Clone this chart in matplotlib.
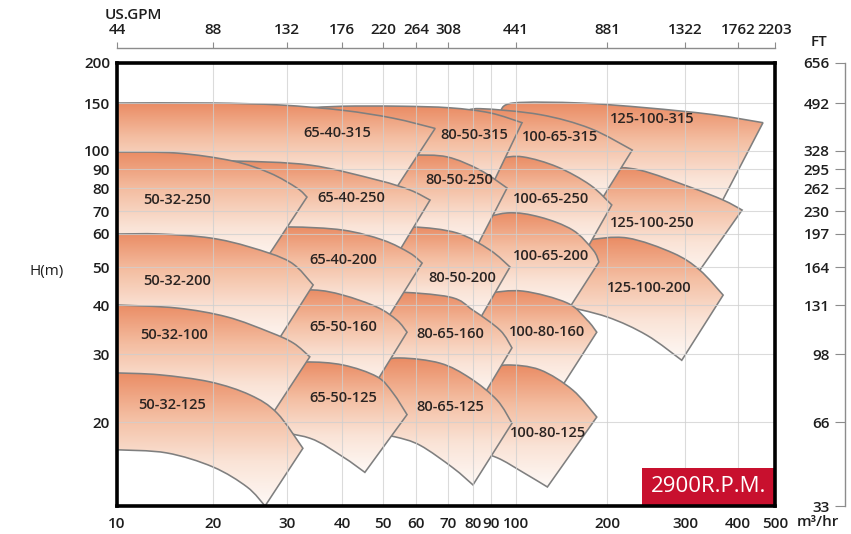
import numpy as np
import matplotlib
matplotlib.use("Agg")
import matplotlib.pyplot as plt
from matplotlib.colors import LinearSegmentedColormap
from matplotlib.patches import PathPatch, Rectangle
from matplotlib.path import Path
from matplotlib.ticker import NullLocator

plt.rcParams['font.family'] = ['Open Sans', 'DejaVu Sans']

# ---- axes ticks -------------------------------------------------------
q_ticks = [10, 20, 30, 40, 50, 60, 70, 80, 90, 100, 200, 300, 400, 500]
gpm_ticks = [10, 20, 30, 40, 50, 60, 70, 100, 200, 300, 400, 500]
gpm_labels = ['44', '88', '132', '176', '220', '264', '308', '441', '881', '1322', '1762', '2203']
h_ticks = [20, 30, 40, 50, 60, 70, 80, 90, 100, 150, 200]
ft_ticks = [10, 20, 30, 40, 50, 60, 70, 80, 90, 100, 150, 200]
ft_labels = ['33', '66', '98', '131', '164', '197', '230', '262', '295', '328', '492', '656']

# the printed chart is not a true log grid: where each gridline sits (fraction of axis)
x_frac = [0, 0.1459, 0.2584, 0.3419, 0.4043, 0.4544, 0.5030, 0.5410, 0.5684, 0.6064,
          0.7447, 0.8632, 0.9438, 1]
y_vals = [10, 20, 30, 40, 50, 60, 70, 80, 90, 100, 150, 200]
y_frac = [0, 0.1896, 0.3431, 0.4537, 0.5395, 0.6140, 0.6659, 0.7178, 0.7607, 0.8014,
          0.9097, 1]

# ---- pump ranges (Q m3/hr, H m): top curve and bottom curve, left -> right ----
top_125_100_315 = [(93.5, 139), (98.8, 150), (163, 150), (246, 144), (349, 136), (465, 127)]
bot_125_100_315 = [(93.5, 76.8), (214, 72.5), (353, 68.2)]
top_125_100_250 = [(163, 86.7), (200, 90.5), (237, 89.4), (308, 80.5), (369, 74.6), (410, 70.4)]
bot_125_100_250 = [(163, 56.5), (237, 54.3), (313, 46.3)]
top_125_100_200 = [(157, 56.5), (172, 58.0), (222, 58.7), (282, 54.0), (325, 49.1), (369, 42.4)]
bot_125_100_200 = [(140, 40.0), (200, 37.3), (246, 33.5), (295, 28.9)]

top_100_65_315 = [(76.7, 139), (83.8, 143), (120, 136), (176, 121), (228, 100.8)]
bot_100_65_315 = [(76.7, 74.6), (111, 74.6), (182.5, 70.4)]
top_100_65_250 = [(78.7, 94.9), (92.7, 96.0), (105.5, 96.6), (137, 91.1), (176, 81.5), (205, 72.5)]
bot_100_65_250 = [(78.7, 61.6), (111, 58.0), (167, 53.4)]
top_100_65_200 = [(78.7, 65.0), (96.3, 69.1), (120, 67.2), (154, 61.6), (180, 54.9), (188, 51.4)]
bot_100_65_200 = [(78.7, 41.2), (103, 41.2), (145, 37.7)]
top_100_80_160 = [(78.7, 42.4), (87.7, 42.9), (105.5, 43.4), (147.5, 40.5), (172, 36.6), (185, 34.1)]
bot_100_80_160 = [(78.7, 28.9), (103, 26.0), (138, 23.9)]
top_100_80_125 = [(78.7, 26.9), (87.7, 27.3), (96.3, 28.1), (120, 27.3), (154, 24.2), (185, 20.6)]
bot_100_80_125 = [(78.7, 15.9), (92.3, 14.9), (105.5, 13.2), (127, 11.7)]

top_80_50_315 = [(33.8, 144), (40.2, 146), (54.9, 146), (70.8, 144), (89.4, 138), (104.7, 127)]
bot_80_50_315 = [(33.8, 72.5), (54.9, 68.2), (86.5, 74.6)]
top_80_50_250 = [(49.2, 97.7), (58.7, 97.7), (69.7, 96.6), (83.8, 89.4), (96.3, 80)]
bot_80_50_250 = [(49.2, 56.5), (67.4, 56.5), (80.5, 54.3)]
top_80_50_200 = [(49.2, 61.6), (59.0, 62.9), (73.5, 60.4), (89.4, 54.9), (97.5, 50)]
bot_80_50_200 = [(49.2, 38.8), (67.4, 38.4), (82.7, 36.2)]
top_80_65_160 = [(44.1, 42.4), (52.8, 43.2), (70.8, 41.9), (80, 38.8), (93.5, 34.5), (98.3, 31.1)]
bot_80_65_160 = [(44.1, 28.9), (64.2, 26.0), (84.9, 23.1)]
top_80_65_125 = [(46.6, 28.6), (54.9, 29.3), (67.4, 28.4), (78.7, 26.0), (92.3, 22.8), (98.3, 19.8)]
bot_80_65_125 = [(46.6, 18.3), (53.4, 17.7), (61.2, 16.5), (71.9, 13.7), (80, 11.9)]

top_65_40_315 = [(10, 150), (19.6, 150), (28.9, 147.5), (40.2, 141), (52.8, 132), (65.8, 121)]
bot_65_40_315 = [(10, 89.4), (24.5, 84.1), (37.6, 79.1), (50.6, 72.5)]
top_65_40_250 = [(15.8, 93.8), (22.3, 94.3), (33.8, 92.1), (48.4, 84.1), (58.0, 79.1), (64.2, 74.6)]
bot_65_40_250 = [(15.8, 58.0), (32.1, 56.5), (53.4, 52.5)]
top_65_40_200 = [(24.5, 62.0), (30.5, 62.9), (40.2, 61.6), (50, 58.0), (58.0, 54.0), (61.8, 51.1)]
bot_65_40_200 = [(24.5, 41.2), (35.6, 40.0), (49.2, 34.5)]
top_65_50_160 = [(27.3, 43.2), (34.4, 43.7), (40.2, 42.4), (48.4, 39.5), (54.0, 36.6), (57.1, 34.1)]
bot_65_50_160 = [(27.3, 27.3), (37.6, 26.0), (46.6, 23.9)]
top_65_50_125 = [(27.3, 27.9), (33.0, 28.6), (40.2, 28.1), (48.4, 26.2), (52.8, 23.8), (57.1, 20.9)]
bot_65_50_125 = [(26.6, 18.7), (33.8, 17.5), (40.2, 15.0), (45.3, 13.2)]

top_50_32_250 = [(10, 99.4), (15.4, 98.8), (22.3, 94.3), (27.3, 87.8), (31.6, 80), (33.3, 75.9)]
bot_50_32_250 = [(10, 56.5), (18.2, 54.9), (26.2, 50.6)]
top_50_32_200 = [(10, 60), (13.6, 60), (19.6, 58.7), (24.5, 55.8), (30.5, 51.4), (34.4, 45.0)]
bot_50_32_200 = [(10, 37.7), (18.2, 36.6), (28.1, 31.6)]
top_50_32_100 = [(10, 40), (15.4, 39.3), (21.6, 37.3), (27.3, 34.1), (31.0, 32.0), (33.8, 29.5)]
bot_50_32_100 = [(10, 24.2), (18.2, 23.5), (26.6, 19.5)]
top_50_32_125 = [(10, 26.8), (13.6, 26.5), (19.6, 25.4), (24.5, 23.5), (28.4, 21.1), (32.6, 16.1)]
bot_50_32_125 = [(10, 15.9), (14.3, 15.5), (20, 13.8), (24.1, 11.7), (26.6, 10)]

# names in drawing order (right columns first, upper rows first) and label spots
pump_names = ['125-100-315', '125-100-250', '125-100-200',
              '100-65-315', '100-65-250', '100-65-200', '100-80-160', '100-80-125',
              '80-50-315', '80-50-250', '80-50-200', '80-65-160', '80-65-125',
              '65-40-315', '65-40-250', '65-40-200', '65-50-160', '65-50-125',
              '50-32-250', '50-32-200', '50-32-100', '50-32-125']
label_q = [253, 253, 249,
           140, 131, 131, 127, 128,
           80.7, 74.3, 75.4, 70.8, 70.8,
           39.0, 42.0, 40.2, 40.2, 40.2,
           15.4, 15.4, 15.1, 14.9]
label_h = [131, 64.6, 44.2,
           112.5, 75.0, 53.1, 34.1, 18.3,
           114.5, 84.1, 47.0, 33.7, 21.9,
           116, 75.4, 52.1, 35.2, 23.1,
           74.6, 46.0, 33.5, 22.1]

tops = [top_125_100_315, top_125_100_250, top_125_100_200,
        top_100_65_315, top_100_65_250, top_100_65_200, top_100_80_160, top_100_80_125,
        top_80_50_315, top_80_50_250, top_80_50_200, top_80_65_160, top_80_65_125,
        top_65_40_315, top_65_40_250, top_65_40_200, top_65_50_160, top_65_50_125,
        top_50_32_250, top_50_32_200, top_50_32_100, top_50_32_125]
bots = [bot_125_100_315, bot_125_100_250, bot_125_100_200,
        bot_100_65_315, bot_100_65_250, bot_100_65_200, bot_100_80_160, bot_100_80_125,
        bot_80_50_315, bot_80_50_250, bot_80_50_200, bot_80_65_160, bot_80_65_125,
        bot_65_40_315, bot_65_40_250, bot_65_40_200, bot_65_50_160, bot_65_50_125,
        bot_50_32_250, bot_50_32_200, bot_50_32_100, bot_50_32_125]


def x_fwd(v):
    v = np.log10(np.clip(np.asarray(v, dtype=float), 1e-3, None))
    return np.interp(v, np.log10(q_ticks), x_frac)


def x_inv(u):
    return 10 ** np.interp(u, x_frac, np.log10(q_ticks))


def y_fwd(v):
    v = np.log10(np.clip(np.asarray(v, dtype=float), 1e-3, None))
    return np.interp(v, np.log10(y_vals), y_frac)


def y_inv(u):
    return 10 ** np.interp(u, y_frac, np.log10(y_vals))


def smooth_segments(pts):
    # bezier control points (catmull-rom) worked out on the chart's own grid
    p = np.column_stack([x_fwd([a for a, b in pts]), y_fwd([b for a, b in pts])])
    out = []
    n = len(p)
    for k in range(n - 1):
        p0 = p[max(k - 1, 0)]
        p1, p2 = p[k], p[k + 1]
        p3 = p[min(k + 2, n - 1)]
        c1 = p1 + (p2 - p0) / 6.0
        c2 = p2 - (p3 - p1) / 6.0
        out += [c1, c2, p2]
    out = np.array(out)
    return np.column_stack([x_inv(out[:, 0]), y_inv(out[:, 1])])


def shape_path(top, bot):
    verts = [top[0]]
    codes = [Path.MOVETO]
    seg = smooth_segments(top)
    verts += [tuple(v) for v in seg]
    codes += [Path.CURVE4] * len(seg)
    rb = bot[::-1]
    verts.append(rb[0])
    codes.append(Path.LINETO)
    seg = smooth_segments(rb)
    verts += [tuple(v) for v in seg]
    codes += [Path.CURVE4] * len(seg)
    verts.append(top[0])
    codes.append(Path.CLOSEPOLY)
    return Path(verts, codes)


fig = plt.figure(figsize=(8.51, 5.34), dpi=100)
ax = fig.add_axes([117 / 851, 1 - 506 / 534, 658 / 851, 443 / 534])
ax.set_xscale('function', functions=(x_fwd, x_inv))
ax.set_yscale('function', functions=(y_fwd, y_inv))
ax.set_xlim(10, 500)
ax.set_ylim(10, 200)
ax.set_autoscale_on(False)

cmap = LinearSegmentedColormap.from_list(
    'pump', ['#fef9f6', '#fae3d6', '#f4bea2', '#ea8c64'])
grad = np.linspace(0, 1, 256).reshape(-1, 1)

for i, name in enumerate(pump_names):
    z = 1 + 0.04 * i
    patch = PathPatch(shape_path(tops[i], bots[i]), facecolor='none',
                      edgecolor='#7f7f7f', lw=1.15, zorder=z + 0.02)
    ax.add_patch(patch)
    pts = list(tops[i]) + list(bots[i])
    qs = [a for a, b in pts]
    hs = [b for a, b in pts]
    ext = (float(x_fwd(min(qs))), float(x_fwd(max(qs))),
           float(y_fwd(min(hs))), float(y_fwd(max(hs))))
    im = ax.imshow(grad, extent=ext, origin='lower', cmap=cmap, aspect='auto',
                   transform=ax.transAxes, interpolation='bilinear', zorder=z)
    im.set_clip_path(patch)
    ax.text(label_q[i], label_h[i], name, ha='center', va='center',
            fontsize=10.5, fontweight='semibold', color='#2a2422', zorder=5)

ax.set_xlim(10, 500)
ax.set_ylim(10, 200)

# bottom / left axes
ax.set_xticks(q_ticks, labels=[str(q) for q in q_ticks])
ax.set_yticks(h_ticks, labels=[str(h) for h in h_ticks])
ax.xaxis.set_minor_locator(NullLocator())
ax.yaxis.set_minor_locator(NullLocator())
ax.tick_params(axis='x', length=0, pad=8, labelsize=11, labelcolor='#1e1e1e')
ax.tick_params(axis='y', length=0, pad=5, labelsize=11, labelcolor='#1e1e1e')
for lab in ax.get_xticklabels() + ax.get_yticklabels():
    lab.set_fontweight('semibold')
ax.grid(True, color='#cfcfcf', lw=0.8, alpha=0.75)
ax.set_axisbelow(False)
for s in ax.spines.values():
    s.set_linewidth(2.6)
    s.set_color('black')
    s.set_zorder(8)

# top axis in US GPM
axt = ax.twiny()
axt.set_xscale('function', functions=(x_fwd, x_inv))
axt.set_xlim(10, 500)
axt.set_xticks(gpm_ticks, labels=gpm_labels)
axt.xaxis.set_minor_locator(NullLocator())
for s in ['left', 'right', 'bottom']:
    axt.spines[s].set_visible(False)
axt.spines['top'].set_position(('outward', 11))
axt.spines['top'].set_color('#8c8c8c')
axt.spines['top'].set_linewidth(1.0)
axt.tick_params(axis='x', direction='out', length=4, color='#8c8c8c', pad=4,
                labelsize=11, labelcolor='#1e1e1e')
for lab in axt.get_xticklabels():
    lab.set_fontweight('semibold')

# right axis in feet
axr = ax.twinx()
axr.set_yscale('function', functions=(y_fwd, y_inv))
axr.set_ylim(10, 200)
axr.set_yticks(ft_ticks, labels=ft_labels)
axr.yaxis.set_minor_locator(NullLocator())
axr.yaxis.tick_left()
for s in ['right', 'top', 'bottom']:
    axr.spines[s].set_visible(False)
axr.spines['left'].set_position(('axes', (845 - 117) / 658))
axr.spines['left'].set_color('#8c8c8c')
axr.spines['left'].set_linewidth(1.0)
axr.tick_params(axis='y', direction='out', length=7, color='#8c8c8c', pad=4,
                labelsize=11, labelcolor='#1e1e1e')
for lab in axr.get_yticklabels():
    lab.set_fontweight('semibold')

fig.text(105 / 851, 1 - 15 / 534, 'US.GPM', ha='left', va='center', fontsize=11,
         fontweight='semibold', color='#1e1e1e')
fig.text(819 / 851, 1 - 42 / 534, 'FT', ha='center', va='center', fontsize=11,
         fontweight='semibold', color='#1e1e1e')
fig.text(47 / 851, 1 - 272 / 534, 'H(m)', ha='center', va='center', fontsize=11,
         color='#1e1e1e')
fig.text(818 / 851, 1 - 522 / 534, 'm³/hr', ha='center', va='center', fontsize=11,
         fontweight='semibold', color='#1e1e1e')

# speed badge
ax.add_patch(Rectangle(((642 - 117) / 658, 0), (775 - 642) / 658, 38 / 443,
                       transform=ax.transAxes, facecolor='#c8102e', edgecolor='none',
                       zorder=6))
ax.text(((642 + 775) / 2 - 117) / 658, 19 / 443, '2900R.P.M.', transform=ax.transAxes,
        ha='center', va='center', color='white', fontsize=16, zorder=7)

fig.savefig('out.png', dpi=100)
